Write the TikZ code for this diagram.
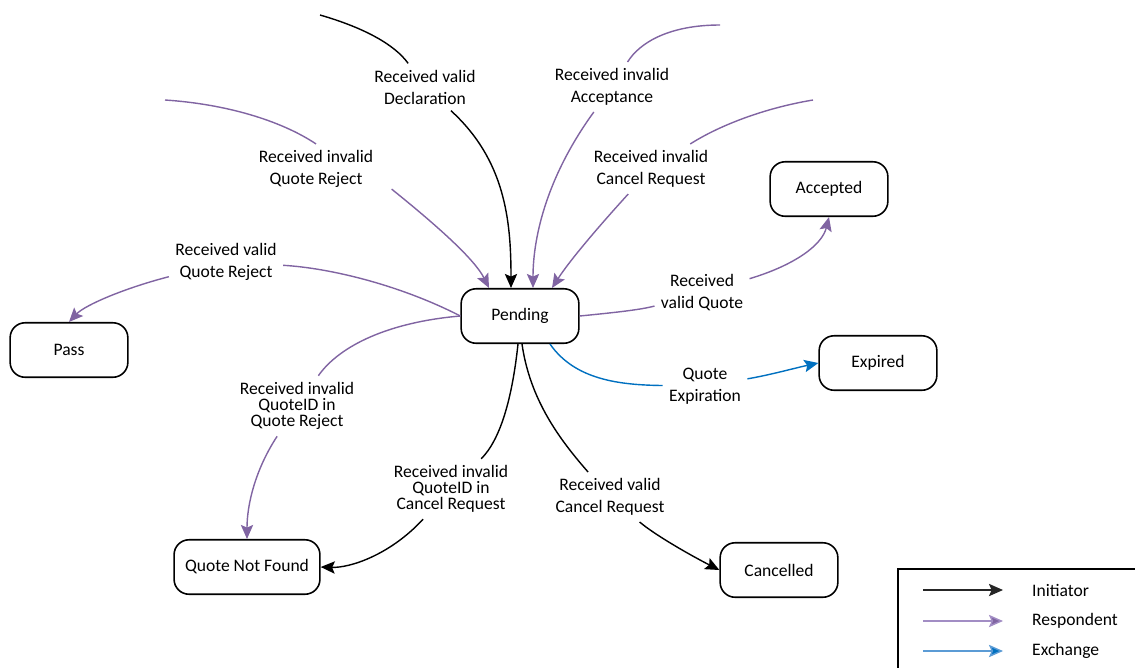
\documentclass[tikz,border=0pt]{standalone}
\usepackage{fontspec}
\setmainfont{Carlito}
\usetikzlibrary{arrows.meta,calc}
\definecolor{rpurple}{HTML}{8064A2}
\definecolor{lpurple}{HTML}{A28DC4}
\definecolor{xblue}{HTML}{0070C0}
\definecolor{lblue}{HTML}{5B9BD5}
\begin{document}
\begin{tikzpicture}[x=0.02cm,y=-0.02cm, font=\fontsize{10}{12.5}\selectfont,
  state/.style={draw, line width=0.9pt, rounded corners=8.5pt, minimum width=67pt, minimum height=31pt, align=center},
  lbl/.style={align=center, inner sep=3.5pt},
  tight/.style={font=\fontsize{10}{9.2}\selectfont},
  tipstyle/.style={-{Stealth[length=8pt,width=7pt,inset=1.5pt]}},
  iniline/.style={draw=black, line width=0.8pt},
  ini/.style={iniline, tipstyle},
  resline/.style={draw=rpurple, line width=0.8pt},
  res/.style={resline, tipstyle},
  excline/.style={draw=xblue, line width=0.8pt},
  exc/.style={excline, tipstyle}
]
\useasboundingbox (0,0) rectangle (1135,667);

% states
\node[state] (Pending) at (520,316) {Pending};
\node[state] (Accepted) at (829,189) {Accepted};
\node[state] (Pass) at (69,350) {Pass};
\node[state] (Expired) at (878,363) {Expired};
\node[state, minimum width=83pt] (QNF) at (247,567) {Quote Not Found};
\node[state] (Cancelled) at (779,570) {Cancelled};

% labels
\node[lbl] (lDecl) at (425,87) {Received valid\\Declaration};
\node[lbl] (lAcc) at (612,87) {Received invalid\\Acceptance};
\node[lbl] (lQR) at (316,169) {Received invalid\\Quote Reject};
\node[lbl] (lCR) at (651,169) {Received invalid\\Cancel Request};
\node[lbl] (lVQR) at (226,262) {Received valid\\Quote Reject};
\node[lbl, tight] (lIQR) at (297,406) {Received invalid\\QuoteID in\\Quote Reject};
\node[lbl, tight] (lIQC) at (451,489) {Received invalid\\QuoteID in\\Cancel Request};
\node[lbl] (lVCR) at (610,497) {Received valid\\Cancel Request};
\node[lbl] (lVQ) at (702,293) {Received\\valid Quote};
\node[lbl] (lExp) at (705,386) {Quote\\Expiration};

% free ends
\coordinate (sDecl) at (320,15);
\coordinate (sAcc) at (720,25);
\coordinate (sQR) at (165,100);
\coordinate (sCR) at (813,100);

% connectors
\draw[iniline] (sDecl) .. controls (365,28) and (395,45) .. (lDecl);
\draw[ini] (lDecl) .. controls (505,160) and (511,220) .. ($(Pending.north)+(-9,0)$);

\draw[resline] (sAcc) .. controls (670,25) and (640,42) .. (lAcc);
\draw[res] (lAcc) .. controls (548,175) and (533,235) .. ($(Pending.north)+(13,0)$);

\draw[resline] (sQR) .. controls (225,104) and (280,120) .. (lQR.north);
\draw[res] ($(lQR.south east)+(12,-5)$) .. controls (440,228) and (475,260) .. ($(Pending.north)+(-31,0)$);

\draw[resline] (sCR) .. controls (765,108) and (720,125) .. (lCR);
\draw[res] (lCR) .. controls (600,225) and (570,260) .. ($(Pending.north)+(32,0)$);

\draw[resline] (Pending.west) .. controls (400,285) and (330,268) .. (lVQR);
\draw[res] (lVQR) .. controls (125,288) and (85,305) .. (Pass.north);

\draw[resline] (Pending.west) .. controls (390,322) and (340,345) .. (lIQR);
\draw[res] (lIQR) .. controls (255,470) and (247,505) .. (QNF.north);

\draw[resline] (Pending.east) .. controls (610,313) and (640,310) .. (lVQ);
\draw[res] (lVQ) .. controls (795,265) and (822,245) .. (Accepted.south);

\draw[excline] ($(Pending.south)+(30,0)$) .. controls (575,380) and (620,385) .. (lExp);
\draw[exc] (lExp) .. controls (770,375) and (795,368) .. (Expired.west);

\draw[iniline] ($(Pending.south)+(-2,0)$) .. controls (512,400) and (500,440) .. (lIQC);
\draw[ini] (lIQC) .. controls (390,555) and (350,568) .. (QNF.east);

\draw[iniline] ($(Pending.south)+(2,0)$) .. controls (530,400) and (560,440) .. (lVCR);
\draw[ini] (lVCR) .. controls (655,535) and (690,555) .. (Cancelled.west);

% legend
\draw[line width=0.8pt] (898,569) rectangle (1145,680);
\coordinate (la1) at (923,590); \coordinate (lb1) at (1003,590);
\coordinate (la2) at (923,621); \coordinate (lb2) at (1003,621);
\coordinate (la3) at (923,651); \coordinate (lb3) at (1003,651);
\draw[ini, draw=black!85] (la1) -- (lb1);
\draw[line width=0.8pt, draw=lpurple, -{Stealth[length=8pt,width=7pt,inset=1.5pt,fill=rpurple]}] (la2) -- (lb2);
\draw[line width=0.8pt, draw=lblue, -{Stealth[length=8pt,width=7pt,inset=1.5pt,fill=xblue]}] (la3) -- (lb3);
\node[anchor=west] (t1) at (1026,590) {Initiator};
\node[anchor=west] (t2) at (1026,621) {Respondent};
\node[anchor=west] (t3) at (1026,651) {Exchange};
\end{tikzpicture}
\end{document}
